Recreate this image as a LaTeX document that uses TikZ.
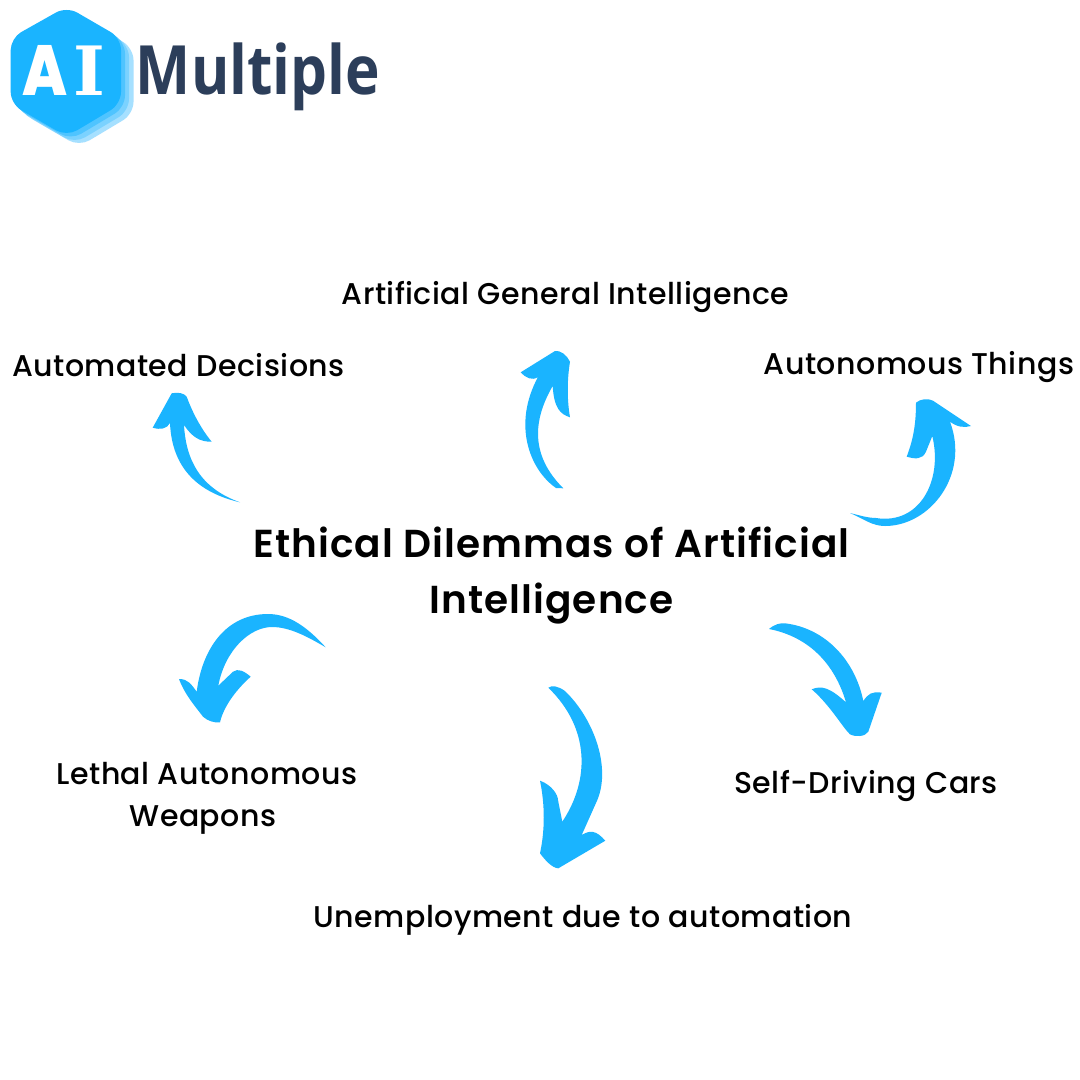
\documentclass[tikz,border=0pt]{standalone}
\usepackage{fontspec}
\setmainfont{Poppins}
\newfontfamily\labelfont[LetterSpace=1.6]{Poppins Medium}
\newfontfamily\titlefont[LetterSpace=2.8]{Poppins SemiBold}
\newfontfamily\logofont{Open Sans}
\newfontfamily\heavyfont{Poppins ExtraBold}
\newfontfamily\slabfont{DejaVu Serif}
\definecolor{skyblue}{HTML}{1AB4FF}
\definecolor{layerA}{HTML}{4FC4FF}
\definecolor{layerB}{HTML}{7BD2FF}
\definecolor{layerC}{HTML}{A6E0FF}
\definecolor{logoink}{HTML}{2C3E5A}
\tikzset{
  lab/.style={font=\labelfont\fontsize{30}{42}\selectfont,text=black,inner sep=0pt,align=center},
  ttl/.style={font=\titlefont\fontsize{39}{56}\selectfont,text=black,inner sep=0pt,align=center},
  brush/.style={fill=skyblue,draw=none},
  hexa/.style={rounded corners=12pt,draw=none}
}
\newcommand{\hexpath}{(66.7,6.5) -- (121,38) -- (121,104) -- (66.7,136.5) -- (10.7,104) -- (10.7,38) -- cycle}
\begin{document}
\begin{tikzpicture}[x=1pt,y=-1pt]
\useasboundingbox (0,0) rectangle (1080,1080);
\fill[white] (0,0) rectangle (1080,1080);
% logo
\fill[hexa,layerC,shift={(12.5,10)}] \hexpath;
\fill[hexa,layerB,shift={(8,7)}] \hexpath;
\fill[hexa,layerA,shift={(4,3.5)}] \hexpath;
\fill[hexa,skyblue] \hexpath;
\node[inner sep=0pt,text=white,font=\heavyfont\fontsize{71}{71}\selectfont,anchor=base,xscale=.84] (logoA) at (45.5,95) {A};
\node[inner sep=0pt,text=white,font=\slabfont\bfseries\fontsize{68}{68}\selectfont,anchor=base] (logoI) at (89.7,95) {I};
\node[inner sep=0pt,text=logoink,font=\logofont\bfseries\fontsize{68}{68}\selectfont,anchor=base,xscale=.86] (logoM) at (258,94) {Multiple};
% texts
\node[lab,anchor=base] (dec) at (178.5,376) {Automated Decisions};
\node[lab,anchor=base] (agi) at (565.5,304) {Artificial General Intelligence};
\node[lab,anchor=base] (thi) at (919,374) {Autonomous Things};
\node[ttl] (ttl) at (551.5,575.5) {Ethical Dilemmas of Artificial\\Intelligence};
\node[lab] (wea) at (207,798) {Lethal Autonomous\\Weapons\hspace*{8pt}};
\node[lab,anchor=base] (car) at (866,793) {Self-Driving Cars};
\node[lab,anchor=base] (une) at (583,927) {Unemployment due to automation};
% arrows
\fill[brush] (240,502.3) .. controls (200,493) and (172,470) .. (170,423)
  .. controls (167,429) and (160,430) .. (152.7,427.7) -- (171.7,393.3)
  .. controls (178,392) and (184,393) .. (186.7,396.7)
  .. controls (193,414) and (202,430) .. (211.7,441.7)
  .. controls (200,442) and (192,437) .. (184,425)
  .. controls (186,460) and (200,488) .. (240,502.3) -- cycle;
\fill[brush] (563.3,488.3) -- (556,488) .. controls (530,470) and (512,425) .. (538,377)
  .. controls (532,381) and (526,378) .. (520.7,372.3) -- (555,351)
  .. controls (560,350) and (567,355) .. (570,361.7)
  .. controls (567,380) and (567,400) .. (570,417.3)
  .. controls (560,414) and (554,408) .. (552.7,386)
  .. controls (533,420) and (530,455) .. (563.3,488.3) -- cycle;
\fill[brush] (850,513) .. controls (864,519) and (872,526) .. (885,526)
  .. controls (930,526) and (970,475) .. (950,421.7)
  .. controls (957,427) and (964,428) .. (971,426) -- (933,400.7)
  .. controls (928,398) and (920,399) .. (916,402.7)
  .. controls (916,425) and (913,440) .. (906.7,456.7)
  .. controls (915,459) and (922,460) .. (926,451.7) -- (932.3,436)
  .. controls (943,480) and (920,525) .. (876,518)
  .. controls (868,518) and (858,515) .. (850,513) -- cycle;
\fill[brush] (325.7,647.3) .. controls (308,628) and (290,614) .. (268,614)
  .. controls (225,614) and (202,650) .. (196.7,691.7)
  .. controls (191,684) and (188,679) .. (179,679)
  .. controls (185,695) and (195,706) .. (203,716.7)
  .. controls (208,721) and (214,723) .. (220,722.3)
  .. controls (224,705) and (238,688) .. (250.7,676.7)
  .. controls (244,671) and (238,668) .. (233,671.7) -- (218.3,685.7)
  .. controls (225,650) and (250,627) .. (272,627)
  .. controls (290,627) and (308,637) .. (325.7,647.3) -- cycle;
\fill[brush] (769,629) .. controls (775,624) and (780,623) .. (785,623.3)
  .. controls (825,628) and (855,660) .. (863.3,701)
  .. controls (868,694) and (872,691) .. (881.7,692.7) -- (868.3,731.7)
  .. controls (865,737) and (855,737) .. (850,734.3)
  .. controls (843,728) and (830,705) .. (811.7,689.3)
  .. controls (822,685) and (830,688) .. (846,702.3)
  .. controls (835,665) and (810,637) .. (769,629) -- cycle;
\fill[brush] (548.3,687.7) .. controls (552,685) and (558,686) .. (565,691)
  .. controls (595,720) and (612,770) .. (596,803) -- (581.7,835)
  .. controls (590,830) and (596,830) .. (605.3,840.7) -- (558.3,868.3)
  .. controls (552,868) and (545,860) .. (540,853.3)
  .. controls (545,830) and (545,805) .. (540,780.7)
  .. controls (552,785) and (558,795) .. (558,800) -- (562.3,821.7)
  .. controls (590,780) and (590,728) .. (548.3,687.7) -- cycle;
\end{tikzpicture}
\end{document}
